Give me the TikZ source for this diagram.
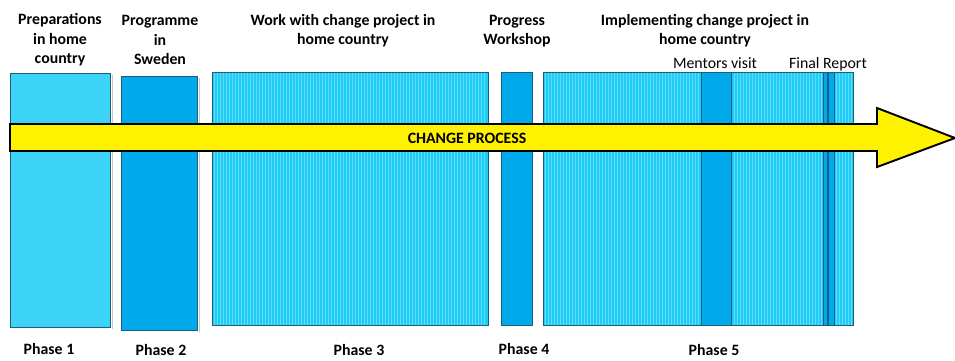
\documentclass[tikz,border=0pt]{standalone}
\usepackage{fontspec}
\setmainfont{Carlito}

\definecolor{paleblue}{HTML}{3DD3F7}
\definecolor{deepblue}{HTML}{00AAEA}
\definecolor{stripeblue}{HTML}{1ECDF5}
\definecolor{edgeblue}{HTML}{1B5E80}

\tikzset{
	phasebox/.style={draw=edgeblue,line width=0.5pt},
	shadowbox/.style={fill=gray!45},
	stripe/.style={white!30!stripeblue,line width=0.45pt},
	headtext/.style={font=\bfseries\fontsize{9}{11}\selectfont,align=center,inner sep=0pt},
	marktext/.style={font=\fontsize{9}{11}\selectfont,inner sep=0pt},
	phasetext/.style={font=\bfseries\fontsize{9}{11}\selectfont,inner sep=0pt}
}

\begin{document}
\begin{tikzpicture}[x=0.02cm,y=-0.02cm]
	\useasboundingbox (0,0) rectangle (955,360);
	% shadows
	\fill [shadowbox] (112,75) rectangle (113,329);
	\fill [shadowbox] (199,78) rectangle (200,332);
	% phase boxes
	\draw [phasebox,fill=paleblue] (10,73) rectangle (110,327);
	\draw [phasebox,fill=deepblue] (121,76) rectangle (197,330);
	\fill [stripeblue] (212,72) rectangle (488,325);
	\foreach \x in {214,217,...,486}
		\draw [stripe] (\x,72) -- (\x,325);
	\draw [phasebox] (212,72) rectangle (488,325);
	\draw [phasebox,fill=deepblue] (501,72) rectangle (532,325);
	\fill [stripeblue] (543,72) rectangle (853,325);
	\foreach \x in {545,548,...,851}
		\draw [stripe] (\x,72) -- (\x,325);
	\draw [phasebox] (543,72) rectangle (853,325);
	\draw [phasebox,fill=deepblue] (701,72) rectangle (731,325);
	\draw [phasebox,fill=deepblue] (823,72) rectangle (834,325);
	\draw [edgeblue,line width=0.8pt] (828,72) -- (828,325);
	% arrow
	\draw [fill=yellow,line width=1.1pt,line join=miter]
		(10,124) -- (877,124) -- (877,108) -- (955,138) -- (877,167) -- (877,151) -- (10,151) -- cycle;
	\node [headtext] (change) at (467,138) {CHANGE PROCESS};
	% headings
	\node [headtext] (prep) at (60,40) {Preparations\\in home\\country};
	\node [headtext] (prog) at (160,40) {Programme\\in\\Sweden};
	\node [headtext] (work) at (343,31) {Work with change project in\\home country};
	\node [headtext] (wshop) at (517,31) {Progress\\Workshop};
	\node [headtext] (impl) at (705,31) {Implementing change project in\\home country};
	\node [marktext] (mentor) at (715,63) {Mentors visit};
	\node [marktext] (report) at (828,64) {Final Report};
	% phases
	\node [phasetext] (ph1) at (49,349) {Phase 1};
	\node [phasetext] (ph2) at (161,350) {Phase 2};
	\node [phasetext] (ph3) at (359,350) {Phase 3};
	\node [phasetext] (ph4) at (524,349) {Phase 4};
	\node [phasetext] (ph5) at (714,350) {Phase 5};
\end{tikzpicture}
\end{document}
